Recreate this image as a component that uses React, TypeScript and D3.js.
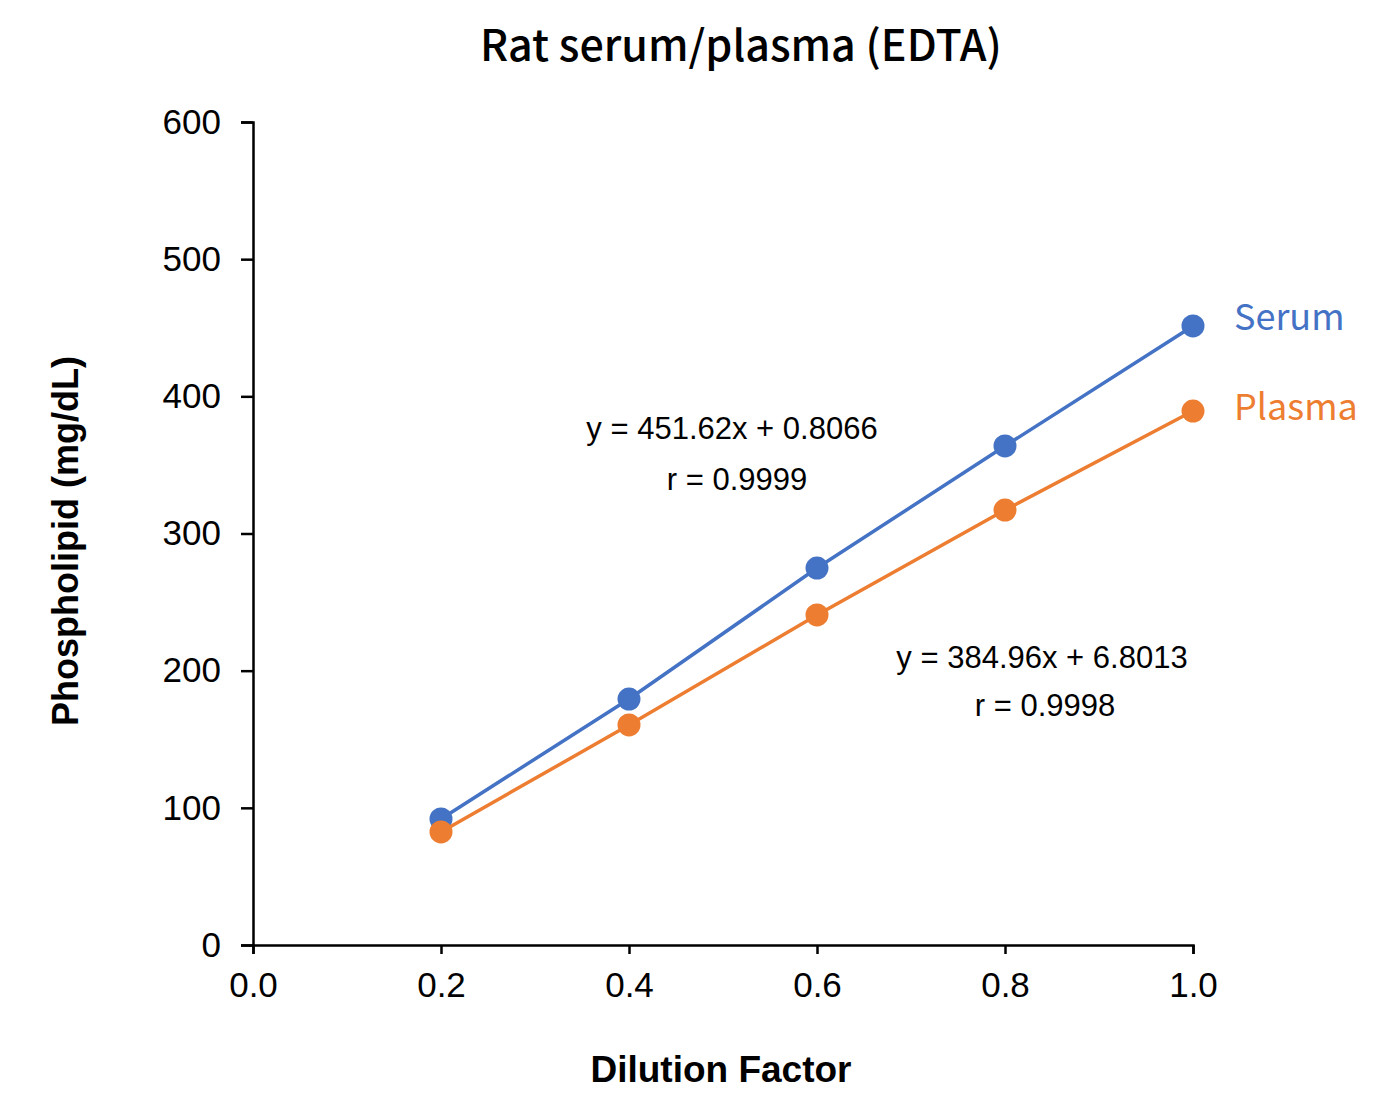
import React, { useEffect, useRef } from 'react'
import * as d3 from 'd3'

const dilution = [0.2, 0.4, 0.6, 0.8, 1.0]
const serumValues = [91.9, 179.3, 274.8, 363.8, 451.3]
const plasmaValues = [82.4, 160.4, 240.6, 317.1, 389.3]
const xTicks = [0, 0.2, 0.4, 0.6, 0.8, 1.0]
const yTicks = [0, 100, 200, 300, 400, 500, 600]

const series = [
  { name: 'Serum', values: serumValues, color: '#4472C4', eq: 'y = 451.62x + 0.8066', r: 'r = 0.9999', labelDy: 4 },
  { name: 'Plasma', values: plasmaValues, color: '#ED7D31', eq: 'y = 384.96x + 6.8013', r: 'r = 0.9998', labelDy: 9 }
]

const W = 1400
const H = 1100
const margin = { top: 122, right: 207, bottom: 155, left: 253 }

const App: React.FC = () => {
  const svgRef = useRef<SVGSVGElement>(null)

  useEffect(() => {
    document.body.style.margin = '0'
    if (!svgRef.current) return
    const svg = d3.select(svgRef.current)
    svg.selectAll('*').remove()

    const x = d3.scaleLinear().domain([0, 1]).range([margin.left, W - margin.right])
    const y = d3.scaleLinear().domain([0, 600]).range([H - margin.bottom, margin.top])

    const tickFont = '"Liberation Sans", Arial, sans-serif'
    const jpFont = '"Noto Sans CJK JP", "Noto Sans", sans-serif'

    // title
    svg.append('text')
      .attr('x', 741).attr('y', 61)
      .attr('text-anchor', 'middle')
      .attr('font-family', jpFont)
      .attr('font-size', 43)
      .attr('font-weight', 500)
      .attr('fill', '#000')
      .text('Rat serum/plasma (EDTA)')

    // y axis
    const yAxis = svg.append('g')
      .attr('transform', `translate(${x(0)},0)`)
      .call(d3.axisLeft(y).tickValues(yTicks).tickSize(12).tickPadding(20).tickFormat(d3.format('d')))
    yAxis.select('.domain').attr('stroke', '#000').attr('stroke-width', 2.5)
    yAxis.selectAll('.tick line').attr('stroke', '#000').attr('stroke-width', 2.5)
    yAxis.selectAll('.tick text')
      .attr('font-family', tickFont).attr('font-size', 35).attr('fill', '#000')

    // x axis
    const xAxis = svg.append('g')
      .attr('transform', `translate(0,${y(0)})`)
      .call(d3.axisBottom(x).tickValues(xTicks).tickSize(9).tickPadding(18).tickFormat(d3.format('.1f')))
    xAxis.select('.domain').attr('stroke', '#000').attr('stroke-width', 2.5)
    xAxis.selectAll('.tick line').attr('stroke', '#000').attr('stroke-width', 2.5)
    xAxis.selectAll('.tick text')
      .attr('font-family', tickFont).attr('font-size', 35).attr('fill', '#000')

    // axis titles
    svg.append('text')
      .attr('x', 721).attr('y', 1082)
      .attr('text-anchor', 'middle')
      .attr('font-family', tickFont)
      .attr('font-size', 37)
      .attr('font-weight', 'bold')
      .text('Dilution Factor')

    svg.append('text')
      .attr('transform', `translate(78,541) rotate(-90)`)
      .attr('text-anchor', 'middle')
      .attr('font-family', tickFont)
      .attr('font-size', 36)
      .attr('font-weight', 'bold')
      .text('Phospholipid (mg/dL)')

    const line = d3.line<number>()
      .x((_, i) => x(dilution[i]))
      .y(d => y(d))

    series.forEach(s => {
      const g = svg.append('g')
      g.append('path')
        .datum(s.values)
        .attr('d', line)
        .attr('fill', 'none')
        .attr('stroke', s.color)
        .attr('stroke-width', 3.5)
      g.selectAll('circle')
        .data(s.values)
        .enter().append('circle')
        .attr('cx', (_, i) => x(dilution[i]))
        .attr('cy', d => y(d))
        .attr('r', 11.5)
        .attr('fill', s.color)
      const last = s.values[s.values.length - 1]
      g.append('text')
        .attr('x', x(1) + 41)
        .attr('y', y(last) + s.labelDy)
        .attr('font-family', jpFont)
        .attr('font-size', 36)
        .attr('fill', s.color)
        .text(s.name)
    })

    // regression equations
    const eqPos = [
      { cx: 732, y1: 439, y2: 490, rcx: 737 },
      { cx: 1042, y1: 668, y2: 716, rcx: 1045 }
    ]
    series.forEach((s, i) => {
      const p = eqPos[i]
      svg.append('text')
        .attr('x', p.cx).attr('y', p.y1)
        .attr('text-anchor', 'middle')
        .attr('font-family', tickFont)
        .attr('font-size', 31)
        .text(s.eq)
      svg.append('text')
        .attr('x', p.rcx).attr('y', p.y2)
        .attr('text-anchor', 'middle')
        .attr('font-family', tickFont)
        .attr('font-size', 31)
        .text(s.r)
    })
  }, [])

  return <svg ref={svgRef} width={W} height={H} style={{ display: 'block', background: '#fff' }} />
}

export default App
